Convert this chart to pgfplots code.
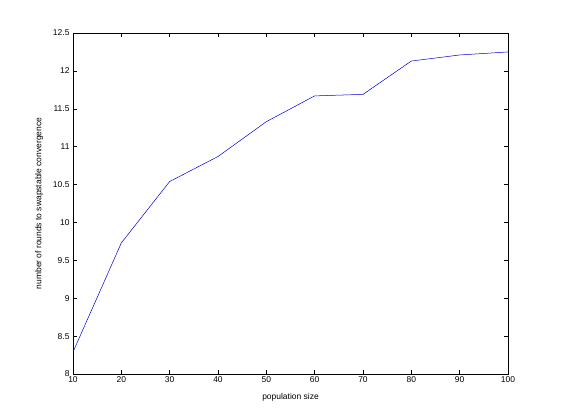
\documentclass[border=0pt]{standalone}
\usepackage{pgfplots}
\pgfplotsset{compat=1.18}
\usepackage{fontspec}
\setmainfont{Liberation Sans}

\begin{document}
\begin{tikzpicture}
\useasboundingbox (0,0) rectangle (561bp,420bp);
\begin{axis}[
    at={(73bp,46bp)}, anchor=south west,
    scale only axis,
    width=435bp, height=341bp,
    xmin=10, xmax=100,
    ymin=8, ymax=12.5,
    xtick={10,20,...,100},
    ytick={8,8.5,...,12.5},
    yticklabels={8,8.5,9,9.5,10,10.5,11,11.5,12,12.5},
    tick align=inside,
    major tick length=4bp,
    tick style={black, line width=0.5bp},
    axis line style={black, line width=0.6bp},
    font=\fontsize{8.5}{10}\selectfont,
    /pgf/number format/assume math mode=true,
    xlabel={population size},
    ylabel={number of rounds to swapstable convergence},
    xlabel style={yshift=-4bp},
    ylabel style={yshift=3bp},
    xticklabel style={yshift=1bp},
  ]
  \addplot[blue!85!black, line width=0.5bp, mark=none] coordinates {
    (10,8.29)
    (20,9.73)
    (30,10.54)
    (40,10.87)
    (50,11.33)
    (60,11.67)
    (70,11.69)
    (80,12.13)
    (90,12.21)
    (100,12.25)
  };
\end{axis}
\end{tikzpicture}
\end{document}
